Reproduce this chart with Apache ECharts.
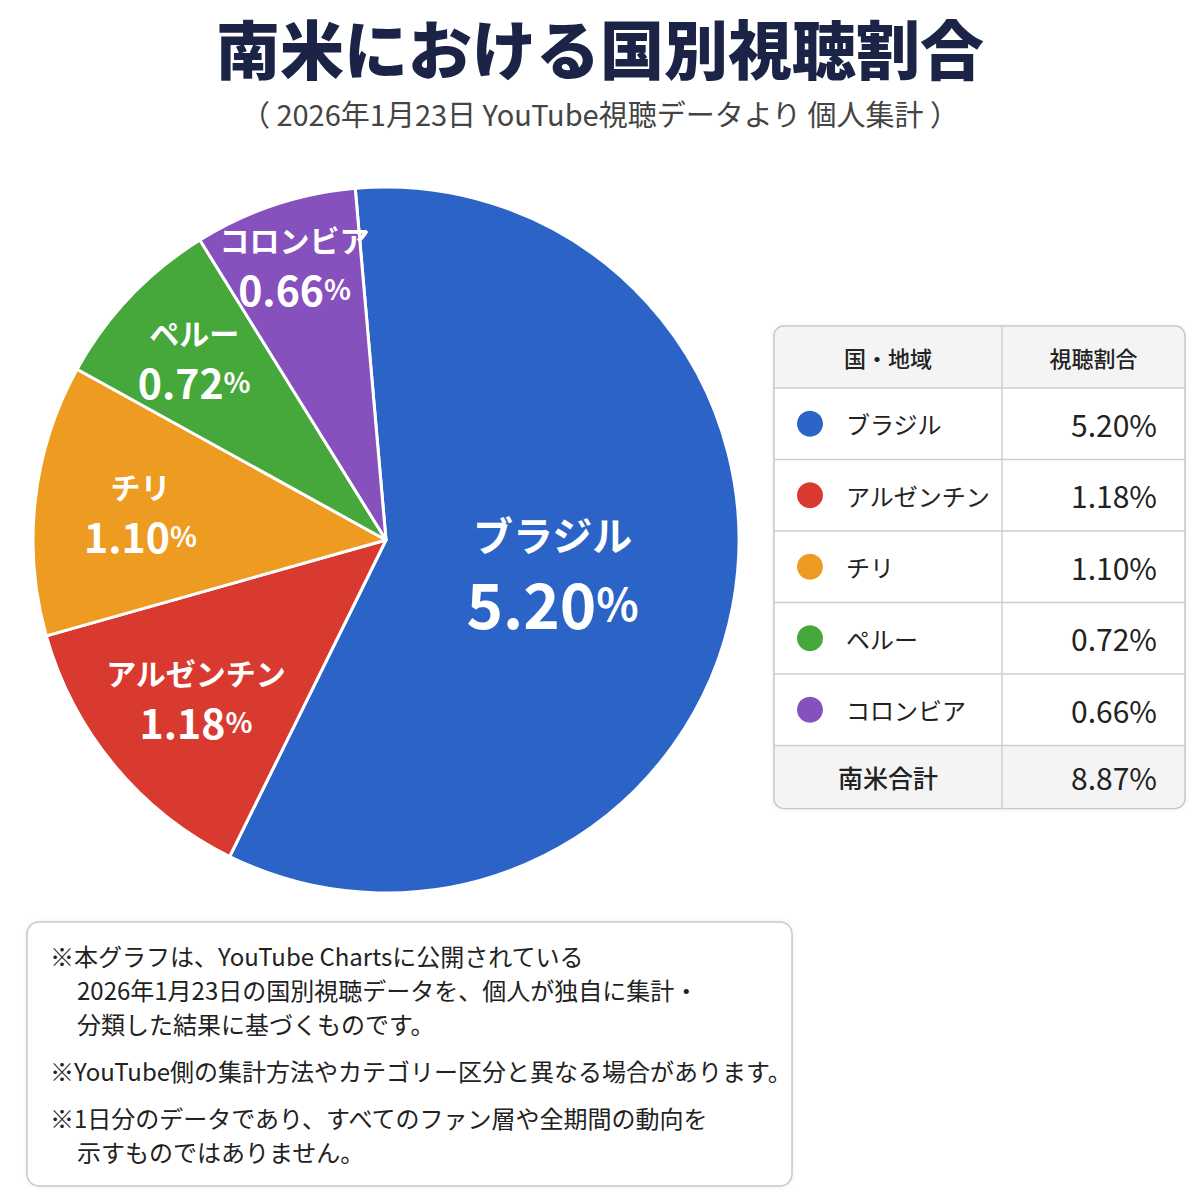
<!DOCTYPE html>
<html>
<head>
<meta charset="utf-8">
<script src="https://cdn.jsdelivr.net/npm/echarts@6/dist/echarts.min.js"></script>
<style>
  html, body { margin: 0; padding: 0; background: #fff; }
  #main { width: 1200px; height: 1200px; }
</style>
</head>
<body>
<div id="main"></div>
<script>
var FONT = '"Noto Sans CJK JP", "Noto Sans", sans-serif';

// 国・地域と視聴割合（%）
var countries = ['ブラジル', 'アルゼンチン', 'チリ', 'ペルー', 'コロンビア'];
var shares = [5.20, 1.18, 1.10, 0.72, 0.66];
var colors = ['#2b64c6', '#d93a2f', '#ee9b22', '#46a83a', '#8650bd'];
var totalLabel = '南米合計';
var totalShare = 8.87;

var headers = ['国・地域', '視聴割合'];

var notes = [
    { text: '※本グラフは、YouTube Chartsに公開されている', indent: false },
    { text: '2026年1月23日の国別視聴データを、個人が独自に集計・', indent: true },
    { text: '分類した結果に基づくものです。', indent: true },
    { text: '※YouTube側の集計方法やカテゴリー区分と異なる場合があります。', indent: false, gap: true },
    { text: '※1日分のデータであり、すべてのファン層や全期間の動向を', indent: false, gap: true },
    { text: '示すものではありません。', indent: true }
];

var PIE_CENTER = [386, 540];
var PIE_R = 353;
var START = 95;
// ラベルを置く半径（円の半径に対する割合）
var LABEL_R = [0.48, 0.7, 0.7, 0.75, 0.82];

var myChart = echarts.init(document.getElementById('main'), null, { renderer: 'svg' });

var sumShares = shares.reduce(function (a, b) { return a + b; }, 0);

var pieData = countries.map(function (name, i) {
    return { name: name, value: shares[i], itemStyle: { color: colors[i] } };
});

// ラベル位置: 各扇形の中央角（累積値）に置く
var acc = 0;
var labelPoints = countries.map(function (name, i) {
    var mid = acc + shares[i] / 2;
    acc += shares[i];
    return { name: name, value: [LABEL_R[i], mid] };
});

// 表の部品
function buildTable() {
    var left = 774, top = 326, width = 411;
    var headH = 62, rowH = 71.5, totalH = 63;
    var colX = 1002;
    var height = headH + rowH * countries.length + totalH;
    var els = [];
    var lineStyle = { stroke: '#cfcfcf', lineWidth: 1.5 };

    els.push({
        type: 'rect',
        shape: { x: left, y: top, width: width, height: height, r: 10 },
        style: { fill: '#fff', stroke: '#c8c8c8', lineWidth: 1.5, shadowBlur: 4, shadowColor: 'rgba(0,0,0,0.08)' }
    });
    els.push({
        type: 'rect',
        shape: { x: left + 1, y: top + 1, width: width - 2, height: headH - 1, r: [9, 9, 0, 0] },
        style: { fill: '#f4f4f4' }
    });
    var totalTop = top + headH + rowH * countries.length;
    els.push({
        type: 'rect',
        shape: { x: left + 1, y: totalTop, width: width - 2, height: totalH - 1, r: [0, 0, 9, 9] },
        style: { fill: '#f4f4f4' }
    });

    // 区切り線
    els.push({ type: 'line', shape: { x1: colX, y1: top, x2: colX, y2: top + height }, style: lineStyle });
    for (var k = 0; k <= countries.length; k++) {
        var yy = top + headH + rowH * k;
        els.push({ type: 'line', shape: { x1: left, y1: yy, x2: left + width, y2: yy }, style: lineStyle });
    }

    // ヘッダー
    var col1C = (left + colX) / 2, col2C = (colX + left + width) / 2;
    [col1C, col2C].forEach(function (cx, i) {
        els.push({
            type: 'text', x: cx, y: top + headH / 2,
            style: { text: headers[i], fill: '#222', font: '500 22px ' + FONT, align: 'center', verticalAlign: 'middle' }
        });
    });

    countries.forEach(function (name, i) {
        var cy = top + headH + rowH * i + rowH / 2;
        els.push({ type: 'circle', shape: { cx: 810, cy: cy, r: 13 }, style: { fill: colors[i] } });
        els.push({
            type: 'text', x: 846, y: cy,
            style: { text: name, fill: '#222', font: '400 24px ' + FONT, align: 'left', verticalAlign: 'middle' }
        });
        els.push({
            type: 'text', x: 1157, y: cy,
            style: { text: shares[i].toFixed(2) + '%', fill: '#222', font: '400 30px ' + FONT, align: 'right', verticalAlign: 'middle' }
        });
    });

    els.push({
        type: 'text', x: col1C, y: totalTop + totalH / 2,
        style: { text: totalLabel, fill: '#222', font: '500 25px ' + FONT, align: 'center', verticalAlign: 'middle' }
    });
    els.push({
        type: 'text', x: 1157, y: totalTop + totalH / 2,
        style: { text: totalShare.toFixed(2) + '%', fill: '#222', font: '400 30px ' + FONT, align: 'right', verticalAlign: 'middle' }
    });
    return els;
}

// 注記ボックス
function buildNotes() {
    var els = [];
    els.push({
        type: 'rect',
        shape: { x: 27, y: 922, width: 765, height: 264, r: 12 },
        style: { fill: '#fff', stroke: '#c8c8c8', lineWidth: 1.5, shadowBlur: 4, shadowColor: 'rgba(0,0,0,0.08)' }
    });
    var y = 955;
    notes.forEach(function (n, i) {
        if (i > 0) y += n.gap ? 47 : 34;
        els.push({
            type: 'text', x: n.indent ? 77 : 50, y: y,
            style: { text: n.text, fill: '#222', font: '400 24px ' + FONT, align: 'left', verticalAlign: 'middle' }
        });
    });
    return els;
}

var richBig = {
    name: { color: '#fff', fontSize: 40, fontWeight: 'bold', fontFamily: FONT, lineHeight: 62, align: 'center' },
    val: { color: '#fff', fontSize: 62, fontWeight: 'bold', fontFamily: FONT, lineHeight: 74 },
    pct: { color: '#fff', fontSize: 44, fontWeight: 'bold', fontFamily: FONT, lineHeight: 74 }
};
var richSmall = {
    name: { color: '#fff', fontSize: 30, fontWeight: 'bold', fontFamily: FONT, lineHeight: 46, align: 'center' },
    val: { color: '#fff', fontSize: 41, fontWeight: 'bold', fontFamily: FONT, lineHeight: 52 },
    pct: { color: '#fff', fontSize: 28, fontWeight: 'bold', fontFamily: FONT, lineHeight: 52 }
};
function labelFmt(p) {
    return '{name|' + countries[p.dataIndex] + '}\n{val|' + shares[p.dataIndex].toFixed(2) + '}{pct|%}';
}

var option = {
    backgroundColor: '#fff',
    animation: false,
    title: {
        text: '南米における国別視聴割合',
        subtext: '（ 2026年1月23日 YouTube視聴データより 個人集計 ）',
        left: 'center',
        top: 6,
        itemGap: 16,
        textStyle: { fontFamily: FONT, fontSize: 64, fontWeight: 900, color: '#1b2447', lineHeight: 70 },
        subtextStyle: { fontFamily: FONT, fontSize: 29, fontWeight: 400, color: '#444', lineHeight: 32 }
    },
    polar: { center: PIE_CENTER, radius: PIE_R },
    angleAxis: {
        type: 'value', min: 0, max: sumShares, startAngle: START, clockwise: true,
        show: false, splitLine: { show: false }
    },
    radiusAxis: { type: 'value', min: 0, max: 1, show: false, splitLine: { show: false } },
    series: [
        {
            name: '視聴割合',
            type: 'pie',
            center: PIE_CENTER,
            radius: [0, PIE_R],
            startAngle: START,
            clockwise: true,
            itemStyle: { borderColor: '#fff', borderWidth: 3 },
            label: { show: false },
            labelLine: { show: false },
            data: pieData
        },
        {
            // 扇形内のラベル（極座標で中央角に配置）
            name: 'labels',
            type: 'scatter',
            coordinateSystem: 'polar',
            silent: true,
            symbolSize: 1,
            itemStyle: { color: 'rgba(0,0,0,0)', opacity: 1 },
            z: 5,
            label: {
                show: true, position: 'inside', formatter: labelFmt, rich: richSmall
            },
            data: labelPoints.map(function (d, i) {
                if (i !== 0) return d;
                return Object.assign({}, d, { label: { rich: richBig } });
            })
        }
    ],
    graphic: buildTable().concat(buildNotes())
};

myChart.setOption(option);
</script>
</body>
</html>
